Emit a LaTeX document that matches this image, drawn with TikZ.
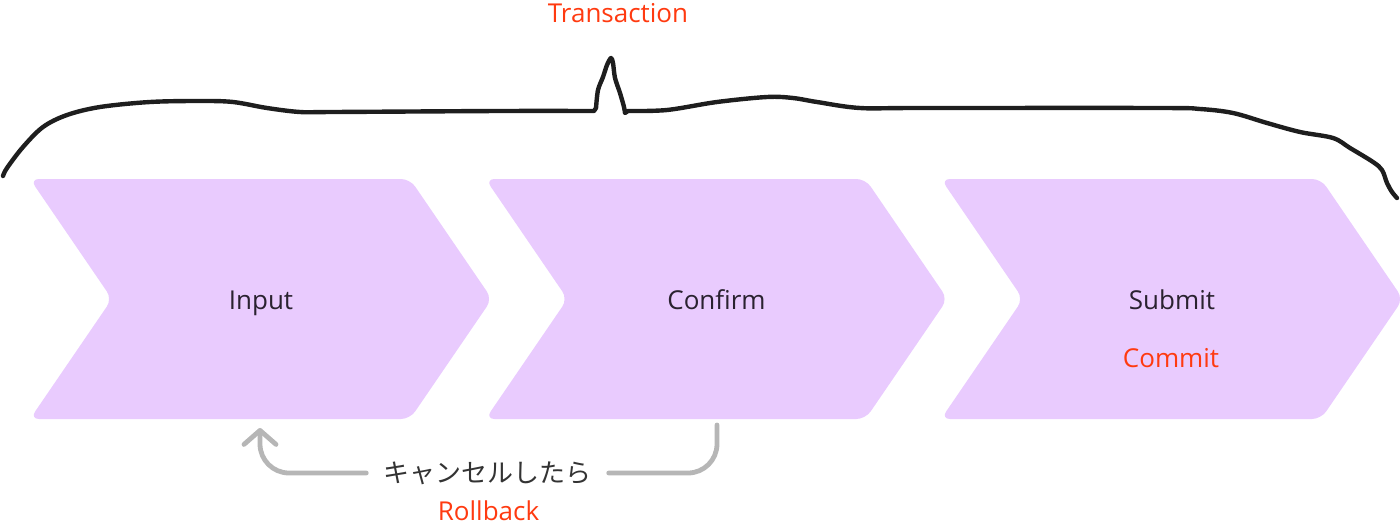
\documentclass[tikz,border=0pt]{standalone}
\usepackage{fontspec}
\setmainfont{Open Sans}
\newfontfamily\jpfont{Noto Sans CJK JP}
\usetikzlibrary{arrows.meta}
\definecolor{chev}{HTML}{E9CBFE}
\definecolor{txt}{HTML}{2A2230}
\definecolor{redl}{HTML}{FF3A10}
\definecolor{arr}{HTML}{B6B6B6}
\definecolor{bracec}{HTML}{1E1E1E}
\definecolor{jptxt}{HTML}{333333}
\begin{document}
\begin{tikzpicture}[x=1pt,y=-1pt,
  chevron/.style={fill=chev, rounded corners=9pt},
  lbl/.style={font=\fontsize{26}{30}\selectfont, text=txt, anchor=base, inner sep=0pt},
  redlbl/.style={font=\fontsize{26}{30}\selectfont, text=redl, anchor=base, inner sep=0pt},
  jplbl/.style={font=\jpfont\fontsize{26}{30}\selectfont, text=jptxt, inner xsep=17pt, inner ysep=0pt},
  conn/.style={draw=arr, line width=4.8pt, line cap=round, line join=round, rounded corners=29pt},
  bracestyle/.style={draw=bracec, line width=4.4pt, line cap=round, line join=round}]
\useasboundingbox (0,0) rectangle (1400,527);
% chevrons
\foreach \L in {30,485.5,941} {
  \fill[chevron] (\L,179) -- (\L+380,179) -- (\L+462,299) -- (\L+380,419) -- (\L,419) -- (\L+82,299) -- cycle;
}
% labels
\node[lbl] (input) at (261,309) {Input};
\node[lbl] (confirm) at (716.5,309) {Confirm};
\node[lbl] (submit) at (1172,309) {Submit};
\node[redlbl] (commit) at (1171,367) {Commit};
\node[redlbl] (transaction) at (618,23) {Transaction};
\node[redlbl] (rollback) at (488.5,520) {Rollback};
% brace
\draw[bracestyle] plot[smooth, tension=0.55] coordinates {(3,176) (7,168) (23,147) (43,127) (67,115) (100,107) (150,102) (200,101) (233,102) (267,108) (300,112) (333,112) (500,111) (594,111)}
  -- plot[smooth, tension=0.5] coordinates {(596,108) (598,90) (603,77) (607,65) (611,58) (613,63) (615,78) (620,93) (624,107) (625,113)}
  -- plot[smooth, tension=0.55] coordinates {(628,111) (667,110) (717,102) (767,97) (793,98) (817,102) (860,108) (920,108) (1160,108) (1200,109) (1233,113) (1267,123) (1300,132) (1333,138) (1350,148) (1373,162) (1382,170) (1387,183) (1392,192) (1397,198)};
% rollback connector
\coordinate (cfbot) at (717,425);
\coordinate (inbot) at (260,428);
\node[jplbl] (cancel) at (487.5,473) {キャンセルしたら};
\draw[conn] (cancel.east) -- (cfbot |- cancel.east) -- (cfbot);
\draw[conn, -{Straight Barb[length=14pt, width=32pt, round]}] (cancel.west) -- (inbot |- cancel.west) -- (inbot);
\end{tikzpicture}
\end{document}
